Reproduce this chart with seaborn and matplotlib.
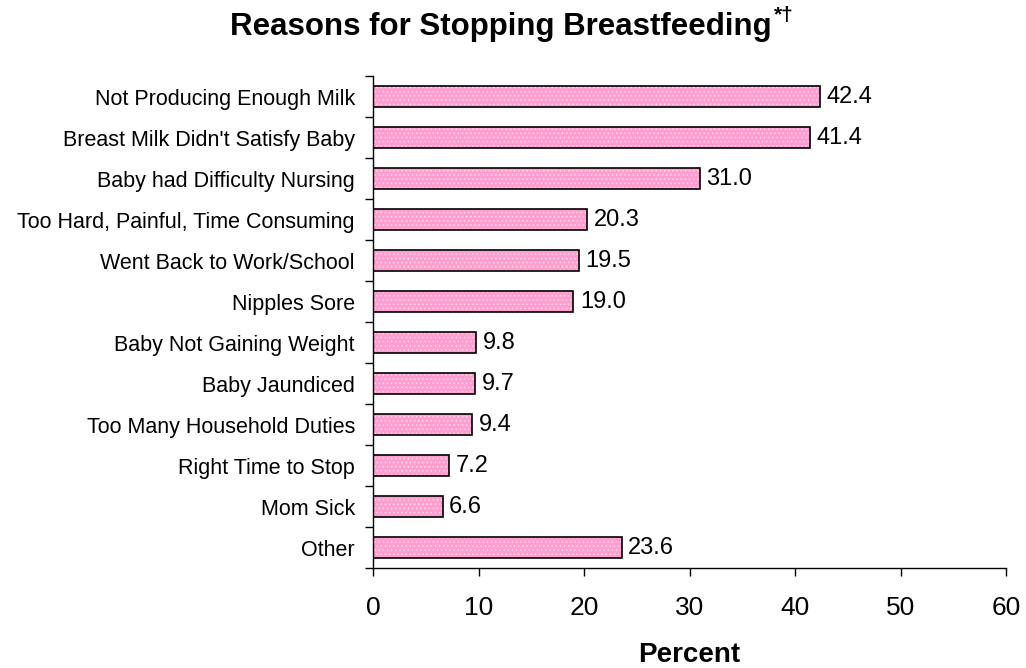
import matplotlib
matplotlib.use("Agg")
import matplotlib.pyplot as plt
import seaborn as sns
import pandas as pd
import numpy as np

categories = ["Not Producing Enough Milk", "Breast Milk Didn't Satisfy Baby",
              "Baby had Difficulty Nursing", "Too Hard, Painful, Time Consuming",
              "Went Back to Work/School", "Nipples Sore", "Baby Not Gaining Weight",
              "Baby Jaundiced", "Too Many Household Duties", "Right Time to Stop",
              "Mom Sick", "Other"]
values = [42.4, 41.4, 31.0, 20.3, 19.5, 19.0, 9.8, 9.7, 9.4, 7.2, 6.6, 23.6]
xticks = [0, 10, 20, 30, 40, 50, 60]

sns.set_style("white")
plt.rcParams['font.family'] = ['Liberation Sans', 'DejaVu Sans']
plt.rcParams['text.color'] = 'black'
plt.rcParams['xtick.color'] = 'black'
plt.rcParams['ytick.color'] = 'black'
plt.rcParams['hatch.linewidth'] = 0.7

df = pd.DataFrame({"reason": categories, "pct": values})

fig = plt.figure(figsize=(10.26, 6.68), dpi=100)
ax = fig.add_axes([373/1026, 1-568/668, (1006-373)/1026, (568-76)/668])

sns.barplot(data=df, x="pct", y="reason", orient="h", color="#FF9ECF",
            width=0.5, saturation=1, edgecolor="black", linewidth=1.2, ax=ax)
for p in ax.patches:
    p.set_hatch("....")
    p._hatch_color = (1, 1, 1, 0.5)

for i, v in enumerate(values):
    ax.text(v + 0.6, i, f"{v:.1f}", va="center", ha="left", fontsize=17, color="black")

ax.set_xlim(0, 60)
ax.set_ylim(11.5, -0.5)
ax.set_xticks(xticks)
ax.set_xticklabels([str(t) for t in xticks], fontsize=19)
ax.tick_params(axis="x", direction="out", length=6, width=1, pad=14, bottom=True,
               color="black", labelcolor="black")
ax.set_yticks(range(len(categories)))
ax.set_yticklabels(categories, fontsize=15.5)
ax.tick_params(axis="y", which="major", length=0, pad=13, labelcolor="black")
ax.set_yticks(np.arange(-0.5, len(categories), 1.0), minor=True)
ax.tick_params(axis="y", which="minor", direction="out", length=6, width=1, left=True, color="black")
ax.set_ylabel("")
ax.set_xlabel("")
for s in ["top", "right"]:
    ax.spines[s].set_visible(False)
for s in ["left", "bottom"]:
    ax.spines[s].set_color("black")
    ax.spines[s].set_linewidth(1)

fig.text(689.5/1026, 1-662/668, "Percent", ha="center", va="baseline", fontsize=20,
         fontweight="bold", color="black")
fig.text(772/1026, 1-35/668, "Reasons for Stopping Breastfeeding", ha="right", va="baseline",
         fontsize=22.5, fontweight="bold", color="black")
fig.text(774/1026, 1-6/668, "*\u2020", ha="left", va="top", fontsize=15,
         fontweight="bold", color="black")

fig.savefig("out.png", dpi=100)
